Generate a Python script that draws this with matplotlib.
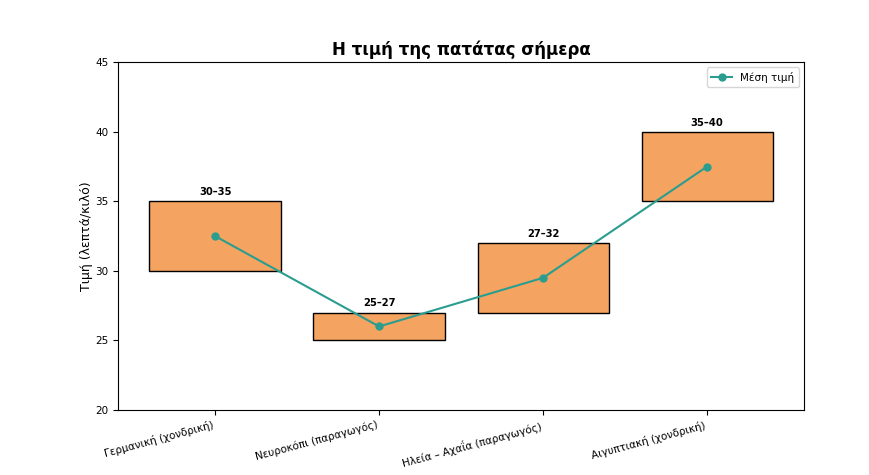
import numpy as np
import matplotlib
matplotlib.use("Agg")
import matplotlib.pyplot as plt

regions = ["Γερμανική (χονδρική)", "Νευροκόπι (παραγωγός)",
           "Ηλεία – Αχαΐα (παραγωγός)", "Αιγυπτιακή (χονδρική)"]
low = np.array([30, 25, 27, 35])
high = np.array([35, 27, 32, 40])
mid = (low + high) / 2

bar_color = "#F4A460"
line_color = "#2A9D8F"

fig = plt.figure(figsize=(8.7, 4.75), dpi=100)
ax = fig.add_axes([0.136, 0.137, 0.788, 0.732])

x = np.arange(len(regions))
ax.bar(x, high - low, bottom=low, width=0.8, color=bar_color,
       edgecolor="black", linewidth=1)
ax.plot(x, mid, color=line_color, marker="o", markersize=5,
        linewidth=1.5, label="Μέση τιμή")

for xi, lo, hi in zip(x, low, high):
    ax.text(xi, hi + 0.3, f"{lo}–{hi}", ha="center", va="bottom",
            fontsize=7.2, fontweight="bold")

ax.set_ylim(20, 45)
ax.set_xticks(x)
ax.set_xticklabels(regions, rotation=15, ha="right", fontsize=7.5)
ax.tick_params(axis="y", labelsize=7.5)
ax.set_ylabel("Τιμή (λεπτά/κιλό)", fontsize=9, labelpad=2)
ax.set_title("Η τιμή της πατάτας σήμερα", fontsize=12, fontweight="bold", pad=5)
ax.legend(loc="upper right", fontsize=7.5)

fig.savefig("out.png", dpi=100)
